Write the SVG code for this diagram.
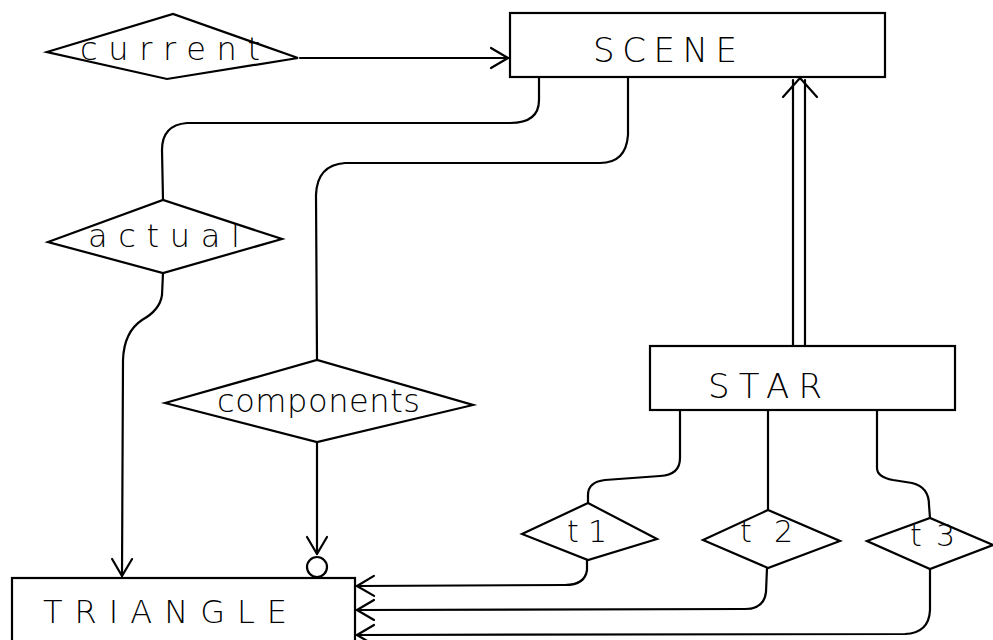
<svg xmlns="http://www.w3.org/2000/svg" width="993" height="640" viewBox="0 0 993 640">
<style>
.s{fill:#fff;stroke:#000;stroke-width:2.2;stroke-linejoin:miter}
.c{fill:none;stroke:#000;stroke-width:2.2;stroke-linecap:round;stroke-linejoin:round}
.t{font-family:"DejaVu Sans","Liberation Sans",sans-serif;fill:#000;font-weight:300}
.lo{font-size:32px}
.tt{font-size:30px}
.up{font-size:34px}
</style>
<defs>
<marker id="v" markerUnits="userSpaceOnUse" orient="auto" refX="0" refY="0" overflow="visible">
<path d="M-17,-10 L0,0 L-17,10" fill="none" stroke="#000" stroke-width="2.2" stroke-linecap="round" stroke-linejoin="round"/>
</marker>
</defs>
<rect width="993" height="640" fill="#fff"/>
<g id="connectors">
<path class="c" d="M300,58 L508,58" marker-end="url(#v)"/>
<path class="c" d="M539,77 L539,100 Q539,123 510,123 L187,123 Q162,125 162,150 L163,200"/>
<path class="c" d="M628,77 L628,135 Q626,163 600,163 L345,163 Q317,165 316,195 L317,360"/>
<path class="c" d="M163,273 L162,295 Q160,310 142,320 Q124,332 123,360 L122,576" marker-end="url(#v)"/>
<path class="c" d="M317,442 L317,554" marker-end="url(#v)"/>
<circle class="c" cx="317" cy="567" r="10"/>
<path class="c" d="M793,345 L793,80"/>
<path class="c" d="M805,345 L805,80"/>
<path class="c" d="M783,97 L800,78 L817,97"/>
<path class="c" d="M680,410 L680,458 Q680,475 660,476 L605,480 Q588,482 588,495 L588,503"/>
<path class="c" d="M768,410 L768,510"/>
<path class="c" d="M877,410 L877,468 Q877,477 893,480 L912,483 Q929,487 929,505 L930,518"/>
<path class="c" d="M587,560 L587,570 Q585,585 565,585 L357,586" marker-end="url(#v)"/>
<path class="c" d="M767,568 L766,592 Q764,609 745,609 L357,610" marker-end="url(#v)"/>
<path class="c" d="M930,569 L930,610 Q929,633 905,634 L357,635" marker-end="url(#v)"/>
</g>
<g id="current">
<polygon class="s" points="47,52 173,14 298,58 167,79"/>
<text class="t lo" x="80" y="60" textLength="180" lengthAdjust="spacing">current</text>
</g>
<g id="scene">
<rect class="s" x="510" y="13" width="375" height="64"/>
<text class="t up" x="593" y="62" textLength="144" lengthAdjust="spacing">SCENE</text>
</g>
<g id="actual">
<polygon class="s" points="48,242 163,200 282,239 163,273"/>
<text class="t lo" x="88" y="247" textLength="152" lengthAdjust="spacing">actual</text>
</g>
<g id="components">
<polygon class="s" points="165,403 317,360 473,405 317,442"/>
<text class="t lo" x="217" y="412" textLength="203" lengthAdjust="spacing">components</text>
</g>
<g id="star">
<rect class="s" x="650" y="346" width="305" height="64"/>
<text class="t up" x="708" y="398" textLength="114" lengthAdjust="spacing">STAR</text>
</g>
<g id="t1">
<polygon class="s" points="522,534 588,503 657,539 588,560"/>
<text class="t tt" x="567" y="542" textLength="40" lengthAdjust="spacing">t1</text>
</g>
<g id="t2">
<polygon class="s" points="703,540 768,510 840,541 768,568"/>
<text class="t tt" x="740" y="542" textLength="53" lengthAdjust="spacing">t2</text>
</g>
<g id="t3">
<polygon class="s" points="867,541 930,518 993,545 930,569"/>
<text class="t tt" x="910" y="546" textLength="45" lengthAdjust="spacing">t3</text>
</g>
<g id="triangle">
<rect class="s" x="12" y="578" width="343" height="80"/>
<text class="t" style="font-size:32px" x="43" y="623" textLength="244" lengthAdjust="spacing">TRIANGLE</text>
</g>
</svg>
